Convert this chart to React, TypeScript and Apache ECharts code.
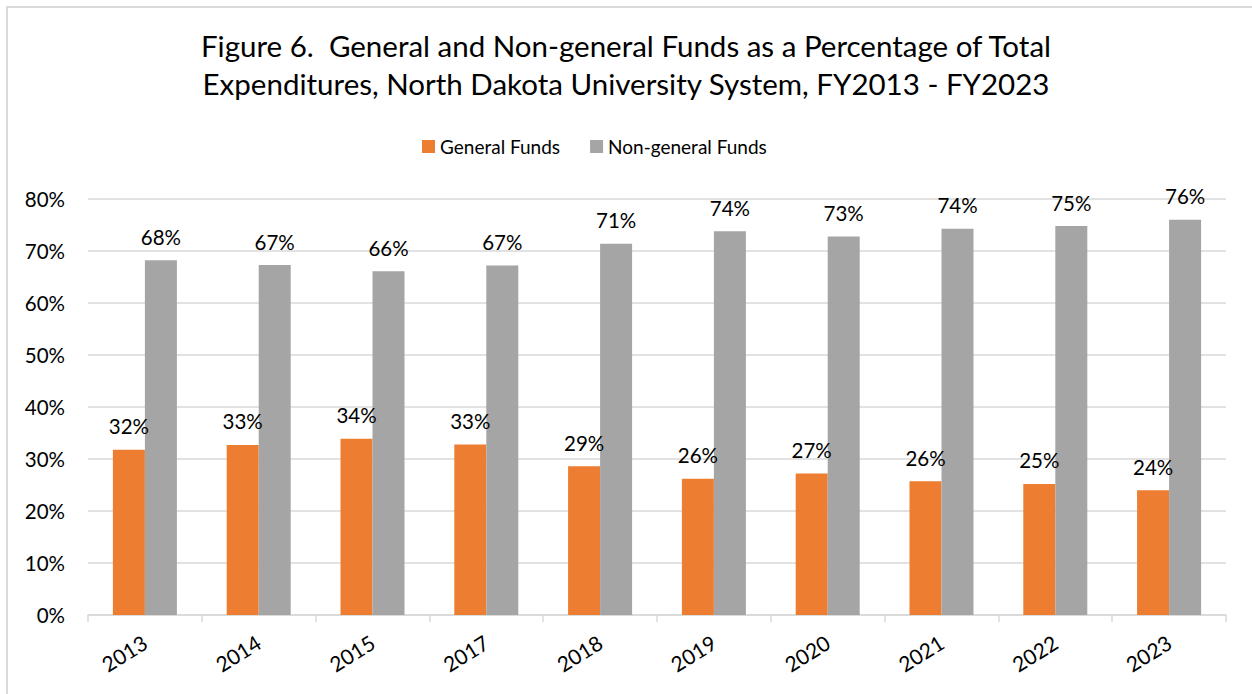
import React, { useEffect, useRef } from "react";
import * as echarts from "echarts";

const categories = ["2013", "2014", "2015", "2017", "2018", "2019", "2020", "2021", "2022", "2023"];
const generalFunds = [31.8, 32.7, 33.9, 32.8, 28.6, 26.2, 27.2, 25.7, 25.2, 24.0];
const nonGeneralFunds = [68.2, 67.3, 66.1, 67.2, 71.4, 73.8, 72.8, 74.3, 74.8, 76.0];
const yTicks = [0, 10, 20, 30, 40, 50, 60, 70, 80];

const FONT = "Lato";

export default function App() {
  const ref = useRef<HTMLDivElement>(null);
  useEffect(() => {
    if (!ref.current) return;
    const chart = echarts.init(ref.current, null, { renderer: "svg" });
    const label = {
      show: true,
      position: "top",
      distance: 13,
      fontFamily: FONT,
      fontSize: 20.5,
      color: "#000",
      formatter: (p: any) => Math.round(p.value) + "%",
    };
    chart.setOption({
      animation: false,
      backgroundColor: "#ffffff",
      title: {
        text: "Figure 6.  General and Non-general Funds as a Percentage of Total\nExpenditures, North Dakota University System, FY2013 - FY2023",
        left: "center",
        top: 21,
        textStyle: { fontFamily: FONT, fontSize: 29.5, fontWeight: "normal", color: "#000", lineHeight: 38 },
      },
      legend: {
        top: 132,
        left: 417,
        itemWidth: 13,
        itemHeight: 13,
        itemGap: 30,
        icon: "rect",
        textStyle: { fontFamily: FONT, fontSize: 19, color: "#000" },
        data: ["General Funds", "Non-general Funds"],
      },
      graphic: [
        {
          type: "polyline",
          z: 100,
          silent: true,
          shape: { points: [[7, 694], [7, 7], [1252, 7]] },
          style: { fill: "none", stroke: "#d9d9d9", lineWidth: 2 },
        },
      ],
      grid: { left: 88, right: 26, top: 199, bottom: 79 },
      xAxis: {
        type: "category",
        data: categories,
        axisLine: { lineStyle: { color: "#d9d9d9", width: 1.5 } },
        axisTick: { show: true, length: 7, lineStyle: { color: "#d9d9d9", width: 1.5 } },
        axisLabel: { rotate: 32, margin: 25, fontFamily: FONT, fontSize: 21, color: "#000" },
      },
      yAxis: {
        type: "value",
        min: 0,
        max: 80,
        interval: 10,
        axisLine: { show: false },
        axisTick: { show: false },
        splitLine: { lineStyle: { color: "#d9d9d9", width: 1.5 } },
        axisLabel: {
          margin: 23,
          fontFamily: FONT,
          fontSize: 20.5,
          color: "#000",
          formatter: (v: number) => (yTicks.includes(v) ? v + "%" : ""),
        },
      },
      series: [
        {
          name: "General Funds",
          type: "bar",
          data: generalFunds,
          barWidth: 32,
          barGap: "0%",
          itemStyle: { color: "#ED7D31" },
          label,
        },
        {
          name: "Non-general Funds",
          type: "bar",
          data: nonGeneralFunds,
          barWidth: 32,
          barGap: "0%",
          itemStyle: { color: "#A5A5A5" },
          label,
        },
      ],
    });
    return () => chart.dispose();
  }, []);
  return (
    <div style={{ position: "fixed", left: 0, top: 0, width: 1252, height: 694 }}>
      <div ref={ref} style={{ width: 1252, height: 694 }} />
    </div>
  );
}
